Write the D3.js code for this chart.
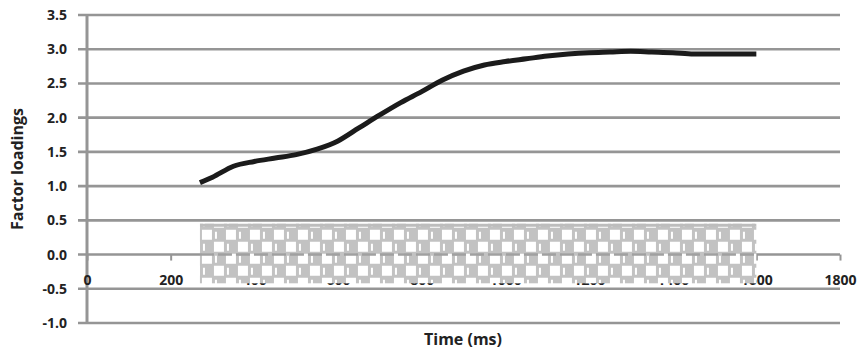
<!DOCTYPE html>
<html><head><meta charset="utf-8">
<script src="https://cdn.jsdelivr.net/npm/d3@7"></script>
<style>body{margin:0;background:#fff}svg{display:block}</style>
</head><body>
<svg id="c" width="859" height="350"></svg>
<script>
const times = [270,300,350,400,450,500,550,600,650,700,750,800,850,900,950,1000,1050,1100,1150,1200,1250,1300,1350,1400,1450,1500,1550,1600];
const loadings = [1.05,1.13,1.29,1.36,1.41,1.46,1.54,1.66,1.85,2.04,2.22,2.38,2.55,2.68,2.77,2.82,2.86,2.90,2.93,2.95,2.96,2.97,2.96,2.95,2.93,2.93,2.93,2.93];
const xTicks = [0,200,400,600,800,1000,1200,1400,1600,1800];
const yTicks = [-1.0,-0.5,0.0,0.5,1.0,1.5,2.0,2.5,3.0,3.5];
const bandRange = [270,1600];
const bandValues = [-0.42,0.45];

const svg = d3.select("#c");
const x = d3.scaleLinear().domain([0,1800]).range([87,840]);
const y = d3.scaleLinear().domain([-1,3.5]).range([323,15]);
const font = "'Open Sans', sans-serif";
const grid = "#959595";

// pattern
const defs = svg.append("defs");
const pat = defs.append("pattern").attr("id","chk").attr("patternUnits","userSpaceOnUse")
  .attr("width",24).attr("height",24).attr("x",x(bandRange[0])).attr("y",y(bandValues[1])+5);
pat.append("rect").attr("width",24).attr("height",24).attr("fill","#c2c2c2");
pat.append("rect").attr("x",2).attr("y",1).attr("width",10).attr("height",10).attr("fill","#fff");
pat.append("rect").attr("x",14).attr("y",13).attr("width",10).attr("height",10).attr("fill","#fff");
pat.append("rect").attr("x",15).attr("y",3).attr("width",2).attr("height",7).attr("fill","#fff");
pat.append("rect").attr("x",3).attr("y",15).attr("width",2).attr("height",7).attr("fill","#fff");

// gridlines
svg.append("g").selectAll("line").data(yTicks).join("line")
  .attr("x1",78).attr("x2",840).attr("y1",d=>y(d)).attr("y2",d=>y(d))
  .attr("stroke",grid).attr("stroke-width",2.6);

// y axis line
svg.append("line").attr("x1",87).attr("x2",87).attr("y1",y(3.5)).attr("y2",y(-1))
  .attr("stroke",grid).attr("stroke-width",3);

// x axis at 0
const xAxis = d3.axisBottom(x).tickValues(xTicks).tickSize(6).tickPadding(15).tickFormat(d3.format("d"));
const gx = svg.append("g").attr("transform",`translate(0,${y(0)})`).call(xAxis);
gx.select(".domain").remove();
gx.selectAll(".tick line").attr("stroke",grid).attr("stroke-width",2);
gx.selectAll(".tick text").attr("font-family",font).attr("font-weight","bold").attr("font-size",14).attr("fill","#222");

// y labels
const yAxis = d3.axisLeft(y).tickValues(yTicks).tickSize(0).tickPadding(20).tickFormat(d3.format(".1f"));
const gy = svg.append("g").attr("transform","translate(87,0)").call(yAxis);
gy.select(".domain").remove();
gy.selectAll(".tick text").attr("font-family",font).attr("font-weight","bold").attr("font-size",14).attr("fill","#222")
  .text(d=>d3.format(".1f")(d).replace("−","-"));

// band
svg.append("rect").attr("x",x(bandRange[0])).attr("width",x(bandRange[1])-x(bandRange[0]))
  .attr("y",y(bandValues[1])).attr("height",y(bandValues[0])-y(bandValues[1]))
  .attr("fill","url(#chk)");
svg.append("rect").attr("x",x(bandRange[0])).attr("width",x(bandRange[1])-x(bandRange[0]))
  .attr("y",y(bandValues[1])).attr("height",3).attr("fill","#bdbdbd");
svg.append("line").attr("x1",x(bandRange[0])).attr("x2",x(bandRange[1])).attr("y1",y(0)).attr("y2",y(0))
  .attr("stroke","#a0a0a0").attr("stroke-width",2.6).attr("stroke-dasharray","14,4");

// curve
svg.append("path").datum(times.map((t,i)=>[t,loadings[i]]))
  .attr("d",d3.line().x(d=>x(d[0])).y(d=>y(d[1])).curve(d3.curveMonotoneX))
  .attr("fill","none").attr("stroke","#1b1b1b").attr("stroke-width",5);

// titles
svg.append("text").attr("x",463).attr("y",345).attr("text-anchor","middle")
  .attr("font-family",font).attr("font-weight","bold").attr("font-size",16).attr("fill","#222").text("Time (ms)");
svg.append("text").attr("transform","translate(23,169) rotate(-90)").attr("text-anchor","middle")
  .attr("font-family",font).attr("font-weight","bold").attr("font-size",16).attr("fill","#222").text("Factor loadings");
</script>
</body></html>
